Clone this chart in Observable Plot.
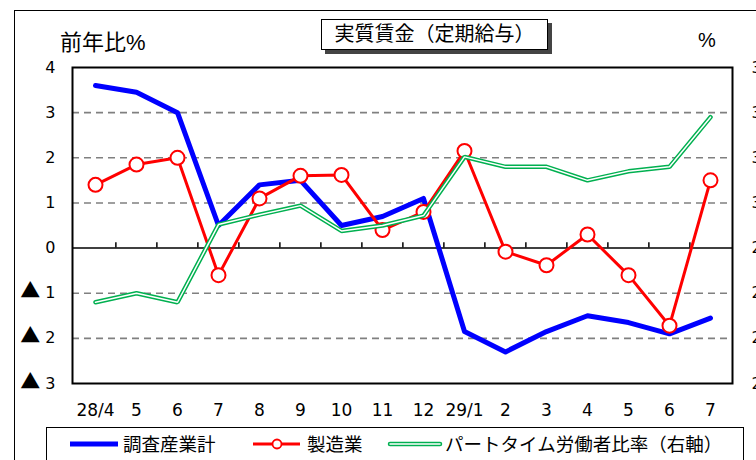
<!DOCTYPE html>
<html>
<head>
<meta charset="utf-8">
<script src="https://cdn.jsdelivr.net/npm/d3@7"></script>
<script src="https://cdn.jsdelivr.net/npm/@observablehq/plot@0.6"></script>
<style>
  body { margin: 0; background: #fff; }
  #wrap { position: relative; width: 756px; height: 460px; overflow: hidden;
          font-family: "Liberation Sans", "Noto Sans CJK JP", sans-serif; color: #000; }
  .abs { position: absolute; white-space: nowrap; }
  #outer { left: 14px; top: 10px; width: 800px; height: 500px; border: 1.5px solid #000; }
  #title { left: 321px; top: 19px; width: 225px; height: 29px; border: 1.5px solid #000; background: #fff;
           box-shadow: 4px 4px 0 #444; font-size: 20px; line-height: 29px; text-align: center; }
  #ylab { left: 60px; top: 24px; font-size: 22px; }
  #ylab2 { left: 698px; top: 29px; font-size: 20px; }
  #legend { left: 46px; top: 427px; width: 696px; height: 32px; border: 1.5px solid #000; background: #fff; }
  .lt { font-size: 18.5px; top: 430px; }
  svg.plot { position: absolute; left: 0; top: 0; }
</style>
</head>
<body>
<div id="wrap">
  <div id="outer" class="abs"></div>
  <div id="plotholder"></div>
  <div id="title" class="abs">実質賃金（定期給与）</div>
  <div id="ylab" class="abs">前年比%</div>
  <div id="ylab2" class="abs">%</div>
  <div id="legend" class="abs"></div>
  <svg class="abs" style="left:0;top:0;overflow:visible" width="756" height="460" id="legsw">
    <line x1="70" y1="444" x2="118" y2="444" stroke="#0000FF" stroke-width="5"/>
    <line x1="253" y1="444" x2="300" y2="444" stroke="#FF0000" stroke-width="3"/>
    <circle cx="277" cy="444" r="4.5" fill="#fff" stroke="#FF0000" stroke-width="1.8"/>
    <line x1="390" y1="444" x2="440" y2="444" stroke="#00B050" stroke-width="4.5" stroke-linecap="round"/>
    <line x1="390" y1="444" x2="440" y2="444" stroke="#fff" stroke-width="1.5" stroke-linecap="round"/>
  </svg>
  <div class="abs lt" style="left:123px">調査産業計</div>
  <div class="abs lt" style="left:307px">製造業</div>
  <div class="abs lt" style="left:445px">パートタイム労働者比率（右軸）</div>
</div>
<script>
// Month labels (平成28年4月 〜 29年7月)
const monthLabels = ["28/4","5","6","7","8","9","10","11","12","29/1","2","3","4","5","6","7"];
// 調査産業計 (前年比%)
const allIndustries = [3.6, 3.45, 3.0, 0.5, 1.4, 1.5, 0.5, 0.7, 1.1, -1.85, -2.3, -1.85, -1.5, -1.65, -1.9, -1.55];
// 製造業 (前年比%)
const manufacturing = [1.4, 1.85, 2.0, -0.6, 1.1, 1.6, 1.62, 0.4, 0.8, 2.15, -0.08, -0.38, 0.3, -0.6, -1.72, 1.5];
// パートタイム労働者比率 (%, right axis)
const partTimeRatio = [28.9, 29.0, 28.9, 29.76, 29.87, 29.97, 29.69, 29.75, 29.86, 30.51, 30.4, 30.4, 30.25, 30.35, 30.4, 30.95];
// Left axis ticks and right axis tick labels
const leftTicks = [4, 3, 2, 1, 0, -1, -2, -3];
const rightTickLabels = ["31.5", "31.0", "30.5", "30.0", "29.5", "29.0", "28.5", "28.0"];
const gridValues = [3, 2, 1, -1, -2];

const idx = d3.range(monthLabels.length);
// map right-axis % to left-axis units: 29.5% ↔ 0, 0.5% per unit
const toLeft = v => (v - 29.5) * 2;

const W = 756, H = 460, mL = 72, mR = 24, mT = 67, mB = 77;
const step = (W - mL - mR) / monthLabels.length;

const rowsA = idx.map(i => ({i, v: allIndustries[i]}));
const rowsM = idx.map(i => ({i, v: manufacturing[i]}));
const rowsP = idx.map(i => ({i, v: toLeft(partTimeRatio[i])}));

const numFont = '"DejaVu Sans", "Liberation Sans", sans-serif';

const plot = Plot.plot({
  width: W, height: H,
  marginLeft: mL, marginRight: mR, marginTop: mT, marginBottom: mB,
  style: {fontFamily: numFont, fontSize: "16px", background: "transparent", overflow: "visible"},
  x: {type: "point", domain: idx, padding: 0.5},
  y: {domain: [-3, 4]},
  marks: [
    Plot.ruleY(gridValues, {stroke: "#808080", strokeWidth: 1.6, strokeDasharray: "7,5"}),
    Plot.ruleY([0], {stroke: "#000", strokeWidth: 1.5}),
    Plot.ruleX(idx.slice(1), {x: d => d, y1: 0, y2: 0.12, dx: -step / 2, stroke: "#000", strokeWidth: 1.5}),
    Plot.line(rowsA, {x: "i", y: "v", stroke: "#0000FF", strokeWidth: 5, strokeLinejoin: "round", strokeLinecap: "round"}),
    Plot.line(rowsM, {x: "i", y: "v", stroke: "#FF0000", strokeWidth: 3}),
    Plot.dot(rowsM, {x: "i", y: "v", r: 7, fill: "#fff", stroke: "#FF0000", strokeWidth: 2}),
    Plot.line(rowsP, {x: "i", y: "v", stroke: "#00B050", strokeWidth: 4.5, strokeLinejoin: "miter"}),
    Plot.line(rowsP, {x: "i", y: "v", stroke: "#fff", strokeWidth: 1.5, strokeLinejoin: "miter"}),
    Plot.frame({stroke: "#000", strokeWidth: 2}),
    Plot.axisY({ticks: leftTicks, tickSize: 0, tickPadding: 17, label: null, fontSize: 16,
      tickFormat: d => d < 0 ? "▲ " + (-d) : String(d)}),
    Plot.axisY({anchor: "right", ticks: leftTicks, tickSize: 0, tickPadding: 19, label: null, fontSize: 16,
      tickFormat: d => rightTickLabels[leftTicks.indexOf(d)]}),
    Plot.axisX({tickSize: 0, tickPadding: 20, label: null, fontSize: 17,
      tickFormat: i => monthLabels[i]})
  ]
});
// enlarge the ▲ sign used for negative values
d3.select(plot).selectAll("text").each(function() {
  const t = this.textContent;
  if (t.startsWith("▲")) {
    const sel = d3.select(this);
    sel.text(null);
    sel.append("tspan").attr("font-size", 20).attr("font-family", '"Noto Sans CJK JP", sans-serif').text("▲");
    sel.append("tspan").text(" " + t.slice(2));
  }
});
document.getElementById("plotholder").appendChild(plot);
</script>
</body>
</html>
